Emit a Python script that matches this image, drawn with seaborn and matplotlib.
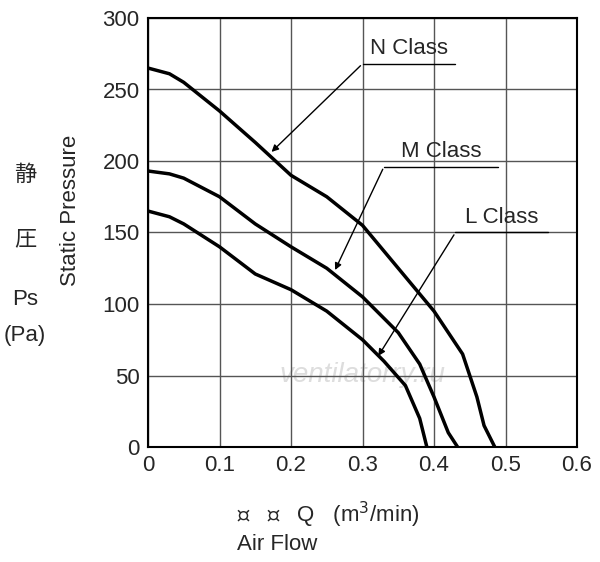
import matplotlib.pyplot as plt
import seaborn as sns
import pandas as pd

sns.set_style("white")
plt.rcParams['font.family'] = ['Liberation Sans', 'Noto Sans CJK JP', 'DejaVu Sans']

n_q = [0, 0.03, 0.05, 0.1, 0.15, 0.2, 0.25, 0.3, 0.35, 0.4, 0.44, 0.46, 0.47, 0.485]
n_p = [265, 261, 255, 235, 213, 190, 175, 155, 125, 95, 65, 35, 15, 0]
m_q = [0, 0.03, 0.05, 0.1, 0.15, 0.2, 0.25, 0.3, 0.35, 0.38, 0.4, 0.42, 0.433]
m_p = [193, 191, 188, 175, 156, 140, 125, 105, 80, 58, 35, 10, 0]
l_q = [0, 0.03, 0.05, 0.1, 0.15, 0.2, 0.25, 0.3, 0.33, 0.36, 0.38, 0.39]
l_p = [165, 161, 156, 140, 121, 110, 95, 75, 60, 43, 20, 0]

df = pd.concat([
    pd.DataFrame({'Q': n_q, 'P': n_p, 'cls': 'N'}),
    pd.DataFrame({'Q': m_q, 'P': m_p, 'cls': 'M'}),
    pd.DataFrame({'Q': l_q, 'P': l_p, 'cls': 'L'}),
])

fig = plt.figure(figsize=(6.0, 5.62), dpi=100)
ax = fig.add_axes([148/600, 1-447/562, 429/600, 429/562])
sns.lineplot(data=df, x='Q', y='P', units='cls', estimator=None, color='black',
             lw=2.5, sort=False, ax=ax, legend=False)
ax.set_xlim(0, 0.6)
ax.set_ylim(0, 300)
ax.set_xticks([0, 0.1, 0.2, 0.3, 0.4, 0.5, 0.6])
ax.set_xticklabels(['0', '0.1', '0.2', '0.3', '0.4', '0.5', '0.6'])
ax.set_yticks(range(0, 301, 50))
ax.grid(True, color='#555555', lw=1)
for s in ax.spines.values():
    s.set_color('black'); s.set_linewidth(1.5)
ax.tick_params(labelsize=16, length=0, pad=6)
ax.set_xlabel(''); ax.set_ylabel('')

# class labels with leader lines
for name, ty, x0, x1, ax_, ay in [('N Class', 268, 0.3, 0.43, 0.17, 205),
                                  ('M Class', 196, 0.33, 0.49, 0.26, 122),
                                  ('L Class', 150, 0.43, 0.56, 0.32, 62)]:
    ax.plot([x0, x1], [ty, ty], color='black', lw=1)
    ax.text((x0 + x1) / 2, ty + 3, name, ha='center', va='bottom', fontsize=16)
    ax.annotate('', xy=(ax_, ay), xytext=(x0, ty),
                arrowprops=dict(arrowstyle='-|>', color='black', lw=1))

ax.text(0.3, 50, 'ventilatorry.ru', ha='center', va='center', fontsize=20,
        style='italic', color='#dddddd', zorder=0)

fig.text(70/600, 1-210/562, 'Static Pressure', rotation=90, ha='center', va='center', fontsize=16)
fig.text(25/600, 1-175/562, '静', ha='center', va='center', fontsize=16)
fig.text(25/600, 1-240/562, '圧', ha='center', va='center', fontsize=16)
fig.text(25/600, 1-300/562, 'Ps', ha='center', va='center', fontsize=16)
fig.text(25/600, 1-335/562, '(Pa)', ha='center', va='center', fontsize=16)
fig.text(237/600, 1-515/562, '風   量   Q   (m$^3$/min)', ha='left', va='center', fontsize=16)
fig.text(237/600, 1-545/562, 'Air Flow', ha='left', va='center', fontsize=16)

fig.savefig('out.png', dpi=100)
